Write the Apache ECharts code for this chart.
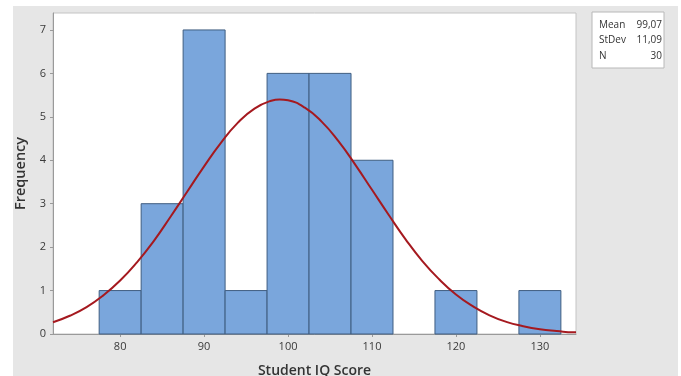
<!DOCTYPE html>
<html>
<head>
<meta charset="utf-8">
<script src="https://cdn.jsdelivr.net/npm/echarts@6/dist/echarts.min.js"></script>
<style>
html,body{margin:0;padding:0;background:#fff;}
#chart{width:681px;height:376px;}
</style>
</head>
<body>
<div id="chart"></div>
<script>
// Histogram bins (bin centers, width 5) and counts
const binCenters = [80, 85, 90, 95, 100, 105, 110, 115, 120, 125, 130];
const binCounts  = [1, 3, 7, 1, 6, 6, 4, 0, 1, 0, 1];
const binWidth = 5;

// Fitted normal curve
const curveX = [72, 74, 76, 78, 80, 82, 84, 86, 88, 90, 92, 94, 96, 98, 99, 100, 102, 104, 106, 108, 110, 112, 114, 116, 118, 120, 122, 124, 126, 128, 130, 132, 134, 134.3];
const curveY = [0.27, 0.42, 0.62, 0.89, 1.23, 1.65, 2.14, 2.70, 3.28, 3.86, 4.40, 4.86, 5.19, 5.37, 5.40, 5.38, 5.21, 4.89, 4.44, 3.90, 3.32, 2.74, 2.18, 1.68, 1.26, 0.91, 0.64, 0.43, 0.28, 0.18, 0.11, 0.07, 0.04, 0.04];

// Axis ticks
const xTicks = [80, 90, 100, 110, 120, 130];
const yTicks = [0, 1, 2, 3, 4, 5, 6, 7];

// Summary statistics
const statLabels = ['Mean', 'StDev', 'N'];
const statValues = ['99,07', '11,09', '30'];

const FONT = '"Open Sans", "Noto Sans", sans-serif';
const chart = echarts.init(document.getElementById('chart'), null, {renderer: 'canvas'});

const histData = binCenters.map((c, i) => [c - binWidth / 2, c + binWidth / 2, binCounts[i]]);

const graphics = [
  {type: 'rect', z: -10, shape: {x: 13, y: 6, width: 665, height: 370}, style: {fill: '#e6e6e6'}, silent: true},
  {type: 'rect', z: 10, shape: {x: 592, y: 12, width: 72, height: 56}, style: {fill: '#ffffff', stroke: '#b8b8b8', lineWidth: 1}}
];
const rowY = [25, 40, 56];
statLabels.forEach((lab, i) => {
  graphics.push({type: 'text', z: 11, left: 599, top: rowY[i] - 5,
    style: {text: lab, fill: '#333', font: '10px ' + FONT}});
  graphics.push({type: 'text', z: 11, right: 681 - 662, top: rowY[i] - 5,
    style: {text: statValues[i], fill: '#333', font: '10px ' + FONT, textAlign: 'right'}});
});

const option = {
  animation: false,
  backgroundColor: '#ffffff',
  graphic: graphics,
  grid: {left: 53, right: 105, top: 13, bottom: 42, outerBoundsMode: 'none', containLabel: false,
    show: true, backgroundColor: '#ffffff', borderColor: '#c4c4c4', borderWidth: 1},
  xAxis: {
    type: 'value', min: 72, max: 134.3, interval: 10,
    name: 'Student IQ Score', nameLocation: 'middle', nameGap: 30,
    nameTextStyle: {fontFamily: FONT, fontSize: 14, fontWeight: 600, color: '#333'},
    splitLine: {show: false},
    axisLine: {show: true, lineStyle: {color: '#9a9a9a'}},
    axisTick: {show: true, length: 3, lineStyle: {color: '#9a9a9a'}, customValues: xTicks},
    axisLabel: {fontFamily: FONT, fontSize: 11, color: '#3a3a3a', margin: 7, customValues: xTicks}
  },
  yAxis: {
    type: 'value', min: 0, max: 7.39, interval: 1,
    name: 'Frequency', nameLocation: 'middle', nameGap: 23,
    nameTextStyle: {fontFamily: FONT, fontSize: 14.5, fontWeight: 600, color: '#333'},
    splitLine: {show: false},
    axisLine: {show: true, lineStyle: {color: '#9a9a9a'}},
    axisTick: {show: true, length: 3, lineStyle: {color: '#9a9a9a'}, customValues: yTicks},
    axisLabel: {fontFamily: FONT, fontSize: 11, color: '#3a3a3a', margin: 7, customValues: yTicks}
  },
  series: [
    {
      type: 'custom',
      data: histData,
      encode: {x: [0, 1], y: 2},
      renderItem: function (params, api) {
        const h = api.value(2);
        if (!h) return null;
        const p0 = api.coord([api.value(0), 0]);
        const p1 = api.coord([api.value(1), h]);
        return {
          type: 'rect',
          shape: {x: p0[0], y: p1[1], width: p1[0] - p0[0], height: p0[1] - p1[1]},
          style: {fill: '#7aa6dc', stroke: '#3f5d80', lineWidth: 1}
        };
      },
      z: 2
    },
    {
      type: 'line',
      data: curveX.map((x, i) => [x, curveY[i]]),
      smooth: true,
      showSymbol: false,
      lineStyle: {color: '#a5191f', width: 2},
      z: 5
    }
  ]
};
chart.setOption(option);
</script>
</body>
</html>
